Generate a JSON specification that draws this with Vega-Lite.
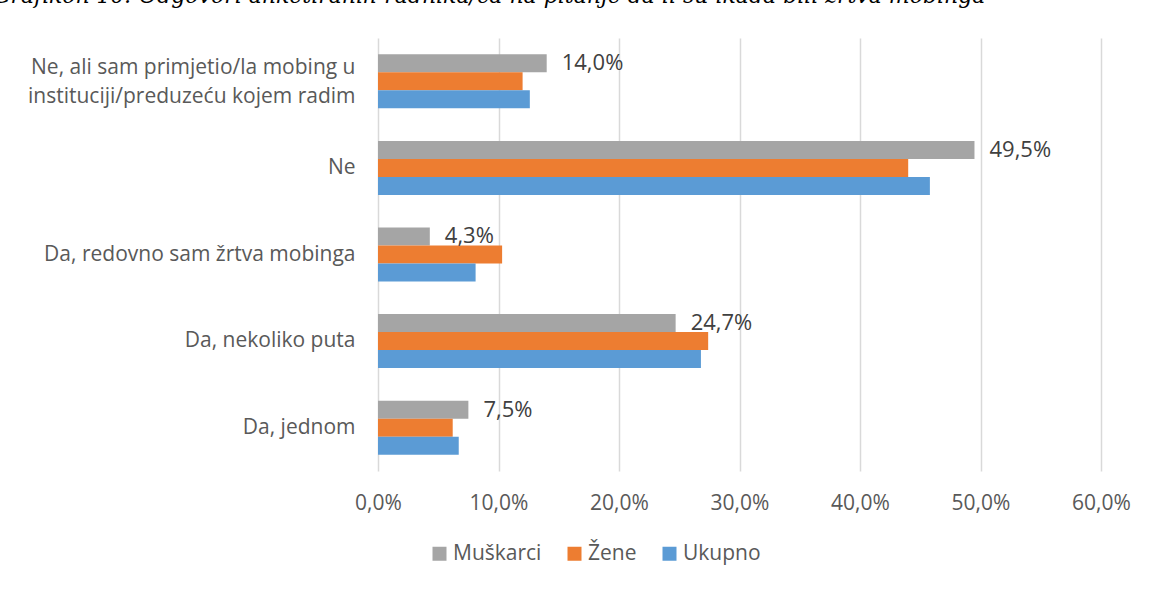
{
  "$schema": "https://vega.github.io/schema/vega-lite/v6.json",
  "width": 723,
  "height": 433,
  "autosize": "none",
  "padding": {"left": 378, "top": 38, "right": 52, "bottom": 118},
  "background": "white",
  "title": {
    "text": "Grafikon 10: Odgovori anketiranih radnika/ca na pitanje da li su ikada bili žrtva mobinga",
    "anchor": "start",
    "frame": "group",
    "orient": "top",
    "baseline": "alphabetic",
    "offset": 26,
    "dy": 13,
    "dx": -385,
    "font": "DejaVu Serif",
    "fontStyle": "italic",
    "fontWeight": "normal",
    "fontSize": 22,
    "color": "#000000"
  },
  "config": {
    "locale": {"number": {"decimal": ",", "thousands": ".", "grouping": [3], "currency": ["", " KM"]}},
    "view": {"stroke": null},
    "font": "Open Sans"
  },
  "data": {
    "values": [
      {"odgovor": "Ne, ali sam primjetio/la mobing u instituciji/preduzeću kojem radim", "grupa": "Muškarci", "udio": 0.140},
      {"odgovor": "Ne, ali sam primjetio/la mobing u instituciji/preduzeću kojem radim", "grupa": "Žene", "udio": 0.120},
      {"odgovor": "Ne, ali sam primjetio/la mobing u instituciji/preduzeću kojem radim", "grupa": "Ukupno", "udio": 0.126},
      {"odgovor": "Ne", "grupa": "Muškarci", "udio": 0.495},
      {"odgovor": "Ne", "grupa": "Žene", "udio": 0.440},
      {"odgovor": "Ne", "grupa": "Ukupno", "udio": 0.458},
      {"odgovor": "Da, redovno sam žrtva mobinga", "grupa": "Muškarci", "udio": 0.043},
      {"odgovor": "Da, redovno sam žrtva mobinga", "grupa": "Žene", "udio": 0.103},
      {"odgovor": "Da, redovno sam žrtva mobinga", "grupa": "Ukupno", "udio": 0.081},
      {"odgovor": "Da, nekoliko puta", "grupa": "Muškarci", "udio": 0.247},
      {"odgovor": "Da, nekoliko puta", "grupa": "Žene", "udio": 0.274},
      {"odgovor": "Da, nekoliko puta", "grupa": "Ukupno", "udio": 0.268},
      {"odgovor": "Da, jednom", "grupa": "Muškarci", "udio": 0.075},
      {"odgovor": "Da, jednom", "grupa": "Žene", "udio": 0.062},
      {"odgovor": "Da, jednom", "grupa": "Ukupno", "udio": 0.067}
    ]
  },
  "encoding": {
    "y": {
      "field": "odgovor",
      "type": "nominal",
      "sort": ["Ne, ali sam primjetio/la mobing u instituciji/preduzeću kojem radim", "Ne", "Da, redovno sam žrtva mobinga", "Da, nekoliko puta", "Da, jednom"],
      "scale": {"paddingInner": 0.376, "paddingOuter": 0.188},
      "axis": {
        "title": null,
        "domain": false,
        "ticks": false,
        "grid": false,
        "labelPadding": 23,
        "labelFontSize": 21,
        "labelColor": "#595959",
        "labelLineHeight": 29,
        "labelLimit": 0,
        "labelOffset": {"condition": {"test": "length(datum.value) > 40", "value": -13}, "value": 0},
        "labelExpr": "datum.value == 'Ne, ali sam primjetio/la mobing u instituciji/preduzeću kojem radim' ? ['Ne, ali sam primjetio/la mobing u', 'instituciji/preduzeću kojem radim'] : datum.value"
      }
    },
    "yOffset": {
      "field": "grupa",
      "type": "nominal",
      "sort": ["Muškarci", "Žene", "Ukupno"],
      "scale": {"domain": ["Muškarci", "Žene", "Ukupno"], "paddingInner": 0, "paddingOuter": 0}
    },
    "x": {
      "field": "udio",
      "type": "quantitative",
      "scale": {"domain": [0, 0.6], "nice": false},
      "axis": {
        "title": null,
        "format": ".1%",
        "values": [0, 0.1, 0.2, 0.3, 0.4, 0.5, 0.6],
        "grid": true,
        "gridColor": "#D9D9D9",
        "gridWidth": 1.5,
        "domain": false,
        "ticks": false,
        "labelPadding": 21,
        "labelFontSize": 21,
        "labelColor": "#595959",
        "labelFlush": false
      }
    }
  },
  "layer": [
    {
      "mark": {"type": "bar"},
      "encoding": {
        "color": {
          "field": "grupa",
          "type": "nominal",
          "sort": ["Muškarci", "Žene", "Ukupno"],
          "scale": {"domain": ["Muškarci", "Žene", "Ukupno"], "range": ["#A5A5A5", "#ED7D31", "#5B9BD5"]},
          "legend": {
            "title": null,
            "orient": "none",
            "legendX": 51,
            "legendY": 505,
            "direction": "horizontal",
            "symbolType": "square",
            "symbolSize": 196,
            "symbolStrokeWidth": 0,
            "labelFontSize": 21,
            "labelColor": "#595959",
            "columnPadding": 22,
            "labelOffset": 3
          }
        }
      }
    },
    {
      "transform": [{"filter": "datum.grupa == 'Muškarci'"}],
      "mark": {"type": "text", "align": "left", "baseline": "middle", "dx": 15, "fontSize": 22, "color": "#404040"},
      "encoding": {
        "text": {"field": "udio", "type": "quantitative", "format": ".1%"}
      }
    }
  ]
}
